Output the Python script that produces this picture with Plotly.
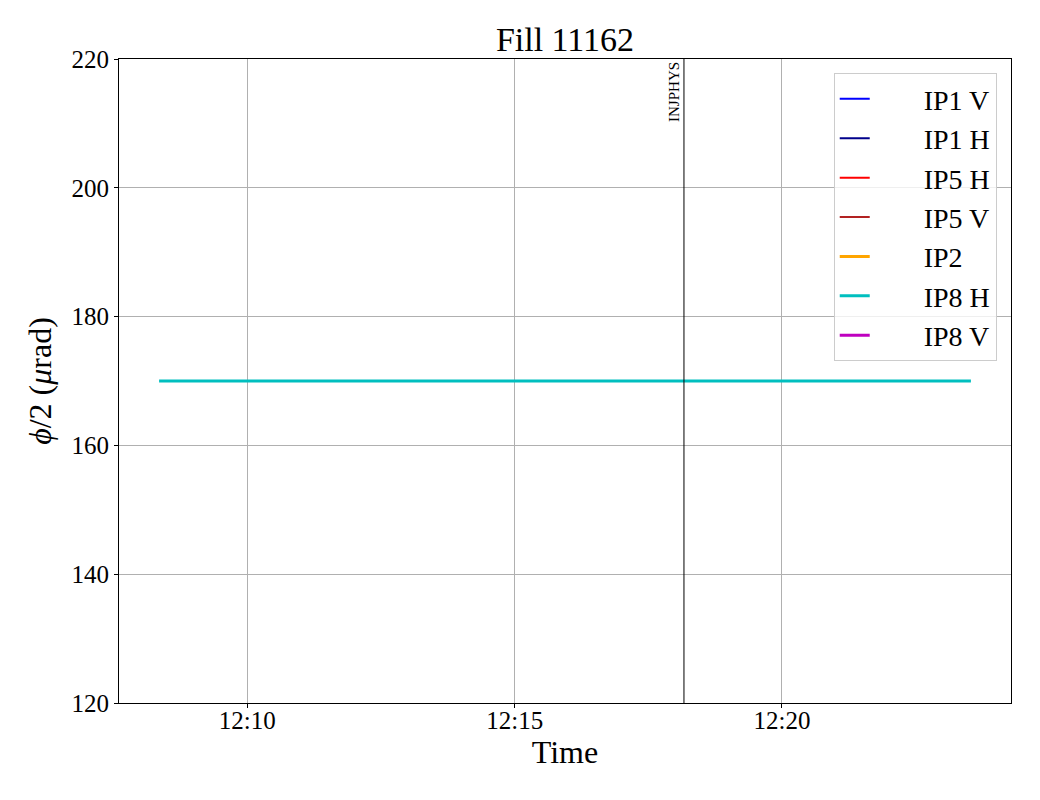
import plotly.graph_objects as go

# ---- data ----
series_names = ["IP1 V", "IP1 H", "IP5 H", "IP5 V", "IP2", "IP8 H", "IP8 V"]
series_colors = ["#0000ff", "#00008b", "#ff0000", "#b22222", "#ffa500", "#00bfbf", "#bf00bf"]
series_widths = [2, 2, 2, 2, 3, 3, 3]
ip8h_times = ["2025-08-20 12:08:21", "2025-08-20 12:23:32"]
ip8h_values = [170, 170]
series_times = {"IP8 H": ip8h_times}
series_values = {"IP8 H": ip8h_values}
mode_name = "INJPHYS"
mode_time = "2025-08-20 12:18:10"
x_range = ["2025-08-20 12:07:36", "2025-08-20 12:24:17"]
y_range = [120, 220]
y_ticks = [120, 140, 160, 180, 200, 220]

FONT = "Liberation Serif, Times New Roman, serif"
PAD = "\u00a0" * 7

fig = go.Figure()
for i, name in enumerate(series_names):
    fig.add_trace(go.Scatter(
        x=series_times.get(name, [None]),
        y=series_values.get(name, [None]),
        mode="lines",
        name=PAD + name,
        legendgroup=name,
        line=dict(color=series_colors[i], width=series_widths[i]),
    ))

fig.add_shape(type="line", xref="x", yref="paper", x0=mode_time, x1=mode_time,
              y0=0, y1=1, line=dict(color="black", width=1))
fig.add_annotation(x=mode_time, y=1, xref="x", yref="paper", text=mode_name,
                   textangle=-90, showarrow=False, xanchor="right", yanchor="top",
                   xshift=0, yshift=-1, font=dict(family=FONT, size=15, color="black"))

fig.update_layout(
    width=1040, height=800,
    margin=dict(l=111, r=37, t=51, b=105, autoexpand=False),
    paper_bgcolor="white", plot_bgcolor="white",
    font=dict(family=FONT, color="black", size=25),
    title=dict(text="Fill 11162", xref="paper", x=0.5, xanchor="center", y=0.9615, yanchor="middle",
               font=dict(family=FONT, size=34)),
    legend=dict(x=0.984, y=0.978, xanchor="right", yanchor="top",
                bgcolor="rgba(255,255,255,0.8)", bordercolor="#cccccc", borderwidth=1,
                font=dict(family=FONT, size=28), tracegroupgap=0),
    showlegend=True,
)
fig.update_xaxes(
    type="date", range=x_range, dtick=300000, tick0="2025-08-20 12:00:00",
    tickformat="%H:%M", showgrid=True, gridcolor="#b0b0b0", gridwidth=0.8,
    showline=True, linecolor="black", linewidth=1, mirror=True,
    ticks="outside", ticklen=4, tickcolor="black", zeroline=False, automargin=False,
    ticklabelposition="outside", ticklabelstandoff=-9,
    tickfont=dict(family=FONT, size=25),
    title=dict(text="Time", font=dict(family=FONT, size=32), standoff=0),
)
fig.update_yaxes(
    range=y_range, tickvals=y_ticks, showgrid=True, gridcolor="#b0b0b0", gridwidth=0.8,
    showline=True, linecolor="black", linewidth=1, mirror=True,
    ticks="outside", ticklen=4, tickcolor="black", zeroline=False, automargin=False,
    tickfont=dict(family=FONT, size=25),
    title=dict(text="<i>ϕ</i>/2 (<i>μ</i>rad)", font=dict(family=FONT, size=32), standoff=10),
)

fig.write_html("out.html")
